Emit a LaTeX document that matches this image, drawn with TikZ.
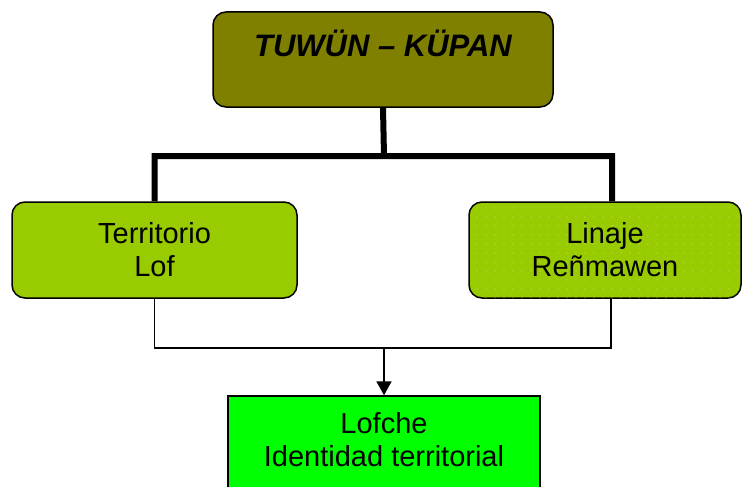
\documentclass[tikz,border=0pt]{standalone}
\usepackage{fontspec}
\setmainfont{Liberation Sans}
\usetikzlibrary{positioning,arrows.meta,patterns.meta}
\definecolor{olivo}{HTML}{808000}
\definecolor{lima}{HTML}{99CC00}
\definecolor{verde}{HTML}{00FF00}
\begin{document}
\begin{tikzpicture}[x=1pt,y=-1pt,line join=miter,
	txt/.style={font=\fontsize{29}{33}\selectfont,align=center},
	topbox/.style={draw,line width=1.5pt,rounded corners=13pt,fill=olivo,minimum width=340pt,minimum height=95pt,
		font=\fontsize{31}{35}\selectfont\bfseries\itshape,text height=22pt,text depth=27pt},
	midbox/.style={txt,draw,line width=1.5pt,rounded corners=13pt,fill=lima,minimum height=96pt},
	lofbox/.style={draw,line width=1.5pt,fill=verde,minimum width=312pt,minimum height=112pt},
	bar/.style={line width=6pt},
	thinline/.style={line width=1.5pt}]
	\useasboundingbox (0,0) rectangle (744,487);
	\node[topbox] (tuwun) at (383,59.5) {TUWÜN – KÜPAN};
	\node[midbox,minimum width=285pt] (terr) at (154.5,250) {Territorio\\Lof};
	\node[midbox,minimum width=272pt,postaction={pattern={Dots[distance=9pt,radius=0.6pt]},pattern color=lima!55!white}] (linaje) at (605,250) {Linaje\\Reñmawen};
	\node[lofbox] (lofche) at (384,452) {};
	\node[txt,inner sep=0pt,below=17pt of lofche.north] (lofchetxt) {Lofche\\Identidad territorial};
	\coordinate (jt) at (384,156);
	\coordinate (jb) at (384,348);
	% union superior
	\draw[bar] (tuwun.south) -- (jt) (terr.north) |- (jt) -| ([xshift=7pt]linaje.north);
	% union inferior
	\draw[thinline] (terr.south) |- (jb) -| ([xshift=6pt]linaje.south);
	\draw[line width=2pt,-{Triangle[length=14pt,width=15pt]}] (jb) -- (lofche.north);
\end{tikzpicture}
\end{document}
